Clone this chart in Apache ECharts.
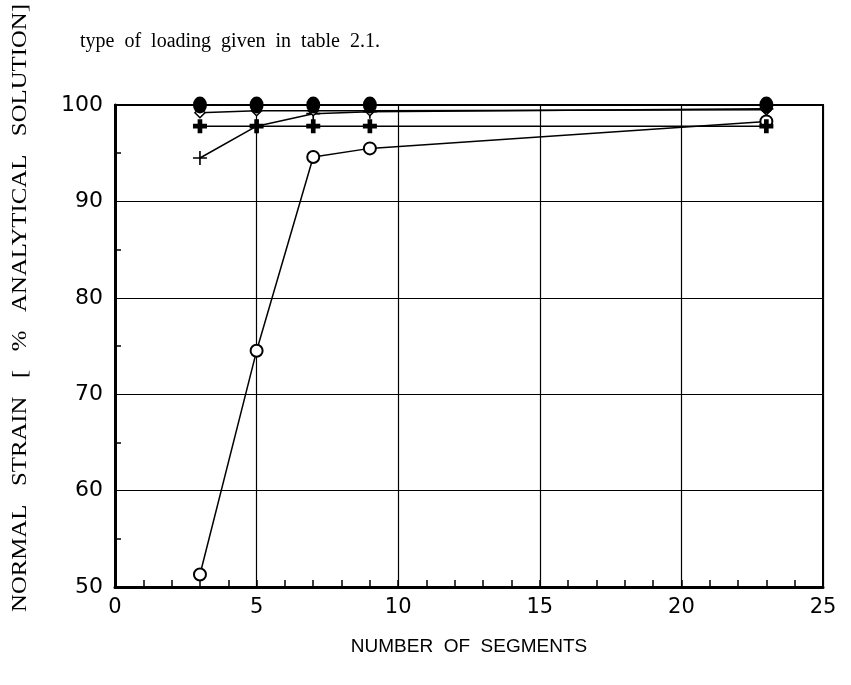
<!DOCTYPE html>
<html>
<head>
<meta charset="utf-8">
<title>Normal strain vs number of segments</title>
<script src="https://cdn.jsdelivr.net/npm/echarts@6/dist/echarts.min.js"></script>
<style>
  html, body { margin: 0; padding: 0; background: #fff; }
  #chart { width: 851px; height: 685px; }
</style>
</head>
<body>
<div id="chart"></div>
<script>
// 数据
var segments = [3, 5, 7, 9, 23];
var filledCircle = [100, 100, 100, 100, 100];
var openDiamond = [99.2, 99.4, 99.4, 99.4, 99.5];
var thinPlus = [94.5, 97.8, 99.1, 99.3, 99.6];
var boldPlus = [97.8, 97.8, 97.8, 97.8, 97.8];
var openCircle = [51.3, 74.5, 94.6, 95.5, 98.3];
var xTicks = [0, 5, 10, 15, 20, 25];
var yTicks = [50, 60, 70, 80, 90, 100];

// helpers
function pairs(ys) {
  return segments.map(function(x, i) { return [x, ys[i]]; });
}

var PLUS_BOLD = 'path://M4,0H8V4H12V8H8V12H4V8H0V4H4Z';
var PLUS_THIN = 'path://M5.3,0H6.7V5.3H12V6.7H6.7V12H5.3V6.7H0V5.3H5.3Z';

function series(name, ys, symbol, size, itemStyle, z) {
  return {
    name: name,
    type: 'line',
    data: pairs(ys),
    symbol: symbol,
    symbolSize: size,
    showAllSymbol: true,
    clip: false,
    z: z,
    lineStyle: { color: '#000', width: 1.5 },
    itemStyle: itemStyle
  };
}

var chart = echarts.init(document.getElementById('chart'), null, { renderer: 'canvas' });

chart.setOption({
  backgroundColor: '#fff',
  animation: false,
  grid: {
    left: 115, top: 105, width: 708, height: 482,
    show: true, borderColor: '#000', borderWidth: 2, backgroundColor: 'transparent'
  },
  xAxis: {
    type: 'value',
    min: xTicks[0], max: xTicks[xTicks.length - 1], interval: 5,
    name: 'NUMBER  OF  SEGMENTS',
    nameLocation: 'middle',
    nameGap: 50,
    nameTextStyle: { fontFamily: 'Liberation Sans, sans-serif', fontSize: 19, color: '#000' },
    axisLine: { show: true, onZero: false, lineStyle: { color: '#000', width: 3 } },
    axisTick: { show: true, inside: true, length: 7, lineStyle: { color: '#000', width: 1.5 } },
    minorTick: { show: true, splitNumber: 5, length: 7, lineStyle: { color: '#000', width: 1.5 } },
    axisLabel: { fontFamily: 'DejaVu Sans', fontSize: 21, color: '#000', margin: 10 },
    splitLine: { show: true, lineStyle: { color: '#000', width: 1.2 } }
  },
  yAxis: {
    type: 'value',
    min: yTicks[0], max: yTicks[yTicks.length - 1], interval: 10,
    axisLine: { show: true, onZero: false, lineStyle: { color: '#000', width: 3 } },
    axisTick: { show: false, inside: true },
    minorTick: { show: true, splitNumber: 2, length: 6, lineStyle: { color: '#000', width: 1.5 } },
    axisLabel: { fontFamily: 'DejaVu Sans', fontSize: 22, color: '#000', margin: 12 },
    splitLine: { show: true, lineStyle: { color: '#000', width: 1.2 } }
  },
  graphic: [{
    // y 轴标题（原图字距较宽，横向拉伸一点）
    type: 'text',
    x: 20, y: 308,
    rotation: Math.PI / 2,
    scaleX: 1.18,
    style: {
      text: 'NORMAL   STRAIN   [   %   ANALYTICAL   SOLUTION]',
      font: '21px "Liberation Serif", serif',
      fill: '#000',
      align: 'center',
      verticalAlign: 'middle'
    }
  }, {
    type: 'text',
    x: 80, y: 42,
    style: {
      text: 'type  of  loading  given  in  table  2.1.',
      font: '20px "Liberation Serif", serif',
      fill: '#000',
      align: 'left',
      verticalAlign: 'middle'
    }
  }],
  series: [
    series('open circle', openCircle, 'circle', 12, { color: '#fff', borderColor: '#000', borderWidth: 2 }, 2),
    series('thin plus', thinPlus, PLUS_THIN, 14, { color: '#000' }, 3),
    series('bold plus', boldPlus, PLUS_BOLD, 14, { color: '#000' }, 4),
    series('open diamond', openDiamond, 'diamond', 10, { color: '#fff', borderColor: '#000', borderWidth: 1.5 }, 5),
    series('filled circle', filledCircle, 'circle', [14, 17], { color: '#000' }, 6)
  ]
});
</script>
</body>
</html>
